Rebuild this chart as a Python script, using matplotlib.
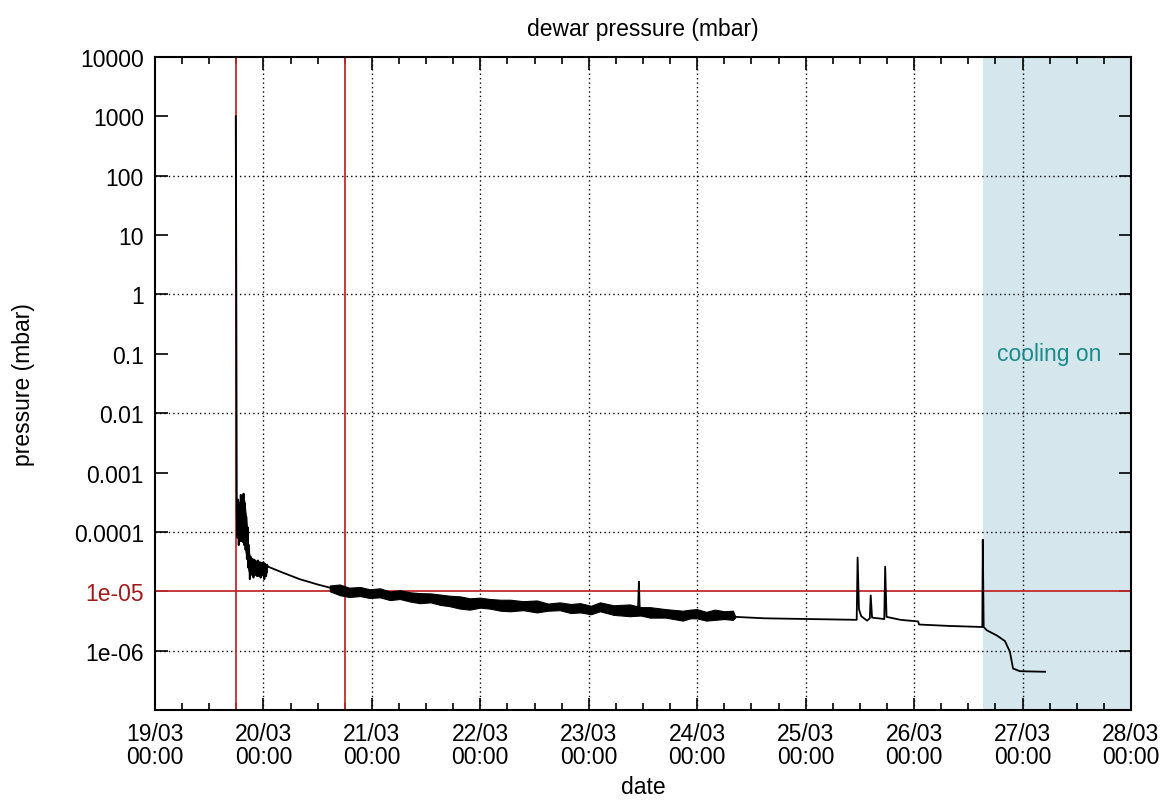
import numpy as np
import pandas as pd
import matplotlib
matplotlib.use("Agg")
import matplotlib.pyplot as plt
import matplotlib.dates as mdates
from matplotlib.ticker import FixedLocator

plt.rcParams['font.family'] = ['Liberation Sans', 'DejaVu Sans']

t0 = pd.Timestamp("2019-03-19 00:00")

# pump-down burst right after venting: hours since 19/03 00:00, pressure in mbar
early_h = [17.9, 18.1, 18.25, 18.4, 18.55, 18.7, 18.85, 19.0, 19.15, 19.3, 19.45, 19.6, 19.75,
           19.9, 20.05, 20.2, 20.35, 20.5, 20.65, 20.8, 21.0, 21.2, 21.4, 21.6, 21.8, 22.0,
           22.2, 22.4, 22.6, 22.8, 23.0, 23.2, 23.4, 23.6, 23.8, 24.0, 24.2, 24.4, 24.6, 24.8, 25.0]
early_p = [1000, 2.2e-4, 8e-5, 3.5e-4, 6e-5, 2.6e-4, 1e-4, 4.2e-4, 7e-5, 3.8e-4, 9e-5, 4.4e-4, 6e-5,
           3e-4, 5e-5, 1.8e-4, 3.5e-5, 1.2e-4, 2.5e-5, 6e-5, 1.6e-5, 3.8e-5, 2.2e-5, 3.5e-5, 1.7e-5, 3.4e-5,
           2e-5, 3.2e-5, 1.8e-5, 3.3e-5, 2.1e-5, 3.1e-5, 1.7e-5, 3.0e-5, 2.2e-5, 3.1e-5, 1.6e-5, 2.9e-5,
           1.8e-5, 2.8e-5, 2.6e-5]

# dense core of the burst
burst_h = [18.15, 18.6, 19.2, 19.8, 20.3, 20.7, 21.2, 22.0, 23.0, 24.0, 24.8]
burst_lo = [9e-5, 7e-5, 7e-5, 6e-5, 3.5e-5, 2.2e-5, 1.9e-5, 1.9e-5, 1.8e-5, 1.9e-5, 2.1e-5]
burst_hi = [2.5e-4, 3.2e-4, 3.6e-4, 3.4e-4, 1.4e-4, 5e-5, 3.3e-5, 3.1e-5, 3.0e-5, 2.9e-5, 2.7e-5]

# gauge trace from 20/03 01:00 on
trace_h = [25.0, 28.0, 32.0, 36.0, 38.7,
           42.0, 50.0, 60.0, 70.0, 80.0, 90.0, 100.0, 106.9, 107.1, 107.3, 112.0, 120.0,
           128.4, 135.0, 145.0, 155.3, 155.5, 155.8, 156.3, 157.6, 158.2, 158.4, 158.7,
           161.4, 161.6, 161.9, 165.0, 168.9, 169.1, 176.0, 183.1, 183.2, 183.4, 184.1,
           186.3, 188.1, 189.2, 189.9, 191.4, 197.0]
trace_p = [2.6e-5, 2.1e-5, 1.6e-5, 1.3e-5, 1.15e-5,
           1.0e-5, 9.2e-6, 8.0e-6, 6.6e-6, 5.8e-6, 5.4e-6, 5.2e-6, 4.8e-6, 1.45e-5, 4.6e-6, 4.2e-6, 4.0e-6,
           3.7e-6, 3.5e-6, 3.4e-6, 3.3e-6, 3.7e-5, 5e-6, 3.8e-6, 3.2e-6, 3.5e-6, 8.5e-6, 3.6e-6,
           3.4e-6, 2.6e-5, 3.7e-6, 3.3e-6, 3.1e-6, 2.75e-6, 2.6e-6, 2.5e-6, 7.4e-5, 2.5e-6, 2.2e-6,
           1.8e-6, 1.45e-6, 9.6e-7, 5e-7, 4.5e-7, 4.4e-7]

# scatter envelope of the noisy stretch 20/03 14:00 - 24/03 08:00
noise_h = [38.7, 40.9, 43.0, 45.4, 47.5, 49.8, 52.0, 54.2, 56.5, 58.6, 61.0, 63.1, 65.2, 67.5,
           69.7, 72.0, 74.1, 76.5, 78.6, 81.5, 84.5, 87.0, 89.6, 92.0, 94.1, 96.5, 98.5, 101.5,
           105.1, 107.5, 109.5, 113.0, 116.8, 118.5, 119.9, 122.0, 123.9, 126.0, 127.9, 128.4]
noise_lo = [1.0e-5, 8.6e-6, 8.0e-6, 8.3e-6, 7.7e-6, 7.9e-6, 7.1e-6, 7.4e-6, 6.7e-6, 6.3e-6, 6.5e-6,
            5.9e-6, 5.6e-6, 5.1e-6, 4.9e-6, 5.3e-6, 5.1e-6, 4.7e-6, 4.6e-6, 4.8e-6, 4.4e-6, 4.7e-6,
            4.8e-6, 4.3e-6, 4.4e-6, 4.1e-6, 4.6e-6, 4.0e-6, 3.8e-6, 3.9e-6, 3.6e-6, 3.6e-6, 3.2e-6,
            3.5e-6, 3.5e-6, 3.2e-6, 3.3e-6, 3.4e-6, 3.3e-6, 3.6e-6]
noise_hi = [1.25e-5, 1.3e-5, 1.15e-5, 1.18e-5, 1.08e-5, 1.12e-5, 9.9e-6, 1.04e-5, 9.6e-6, 9.3e-6,
            9.2e-6, 8.8e-6, 8.4e-6, 8.2e-6, 7.6e-6, 7.8e-6, 7.4e-6, 7.2e-6, 7.2e-6, 6.8e-6, 7.0e-6,
            6.2e-6, 6.5e-6, 6.1e-6, 6.3e-6, 5.7e-6, 6.5e-6, 5.8e-6, 6.0e-6, 5.4e-6, 5.4e-6, 5.0e-6,
            4.7e-6, 4.9e-6, 5.0e-6, 4.5e-6, 4.9e-6, 4.6e-6, 4.7e-6, 3.8e-6]

marker_h = [18.0, 42.0]          # red vertical markers
threshold = 1e-5                 # red horizontal marker
cooling_start_h = 183.2
x_end_h = 216.0


def to_time(hours):
    return t0 + pd.to_timedelta(np.asarray(hours, dtype=float), unit="h")


fs = 16.5
fig = plt.figure(figsize=(11.65, 8.03), dpi=100)
ax = fig.add_axes([0.1330, 0.1146, 0.9708 - 0.1330, 0.9278 - 0.1146])
ax.set_yscale("log")
ax.set_ylim(1e-7, 1e4)
ax.set_xlim(to_time([0])[0], to_time([x_end_h])[0])

red = "#c42a2a"
ax.axvspan(to_time([cooling_start_h])[0], to_time([x_end_h])[0], color="#d5e7ed", zorder=0.5, lw=0)

# dotted grid: every day, every second decade
dots = (0, (1, 2.2))
for d in range(1, 9):
    ax.axvline(to_time([24 * d])[0], color="black", ls=dots, lw=1, zorder=1)
for v in [1e2, 1e0, 1e-2, 1e-4, 1e-6]:
    ax.axhline(v, color="black", ls=dots, lw=1, zorder=1)

for h in marker_h:
    ax.axvline(to_time([h])[0], color=red, lw=1.3, zorder=2)
ax.axhline(threshold, color=red, lw=1.3, zorder=2)

ax.fill_between(to_time(noise_h), noise_lo, noise_hi, color="black", lw=0.8, zorder=3)
ax.fill_between(to_time(burst_h), burst_lo, burst_hi, color="black", lw=0.6, zorder=3)
ax.plot(to_time(early_h), early_p, color="black", lw=1.4, zorder=4)
ax.plot(to_time(trace_h), trace_p, color="black", lw=1.3, zorder=4)

ax.text(to_time([198.0])[0], 0.1, "cooling on", color="#1b8a8a", fontsize=fs,
        ha="center", va="center")

# ticks: days on x with 6 h minors, decades on y
ax.xaxis.set_major_locator(mdates.DayLocator())
ax.xaxis.set_minor_locator(mdates.HourLocator(byhour=[6, 12, 18]))
ax.xaxis.set_major_formatter(mdates.DateFormatter("%d/%m\n%H:%M"))
yticks = [10.0 ** k for k in range(-6, 5)]
ax.yaxis.set_major_locator(FixedLocator(yticks))
ax.yaxis.set_minor_locator(FixedLocator([]))
ax.set_yticklabels(["1e-06", "1e-05", "0.0001", "0.001", "0.01", "0.1", "1", "10", "100", "1000", "10000"])
ax.get_yticklabels()[1].set_color("#9e1a1a")

ax.tick_params(which="both", direction="in", top=True, right=True, labelsize=fs, width=1.2)
ax.tick_params(which="major", length=9)
ax.tick_params(which="minor", length=5)
ax.tick_params(axis="x", pad=9)
ax.tick_params(axis="y", pad=8)
for lab in ax.get_xticklabels():
    lab.set_linespacing(0.95)
for s in ax.spines.values():
    s.set_linewidth(1.5)

ax.set_title("dewar pressure (mbar)", fontsize=fs, pad=16)
ax.set_xlabel("date", fontsize=fs, labelpad=5)
ax.set_ylabel("pressure (mbar)", fontsize=fs, labelpad=28)

fig.savefig("out.png", dpi=100)
